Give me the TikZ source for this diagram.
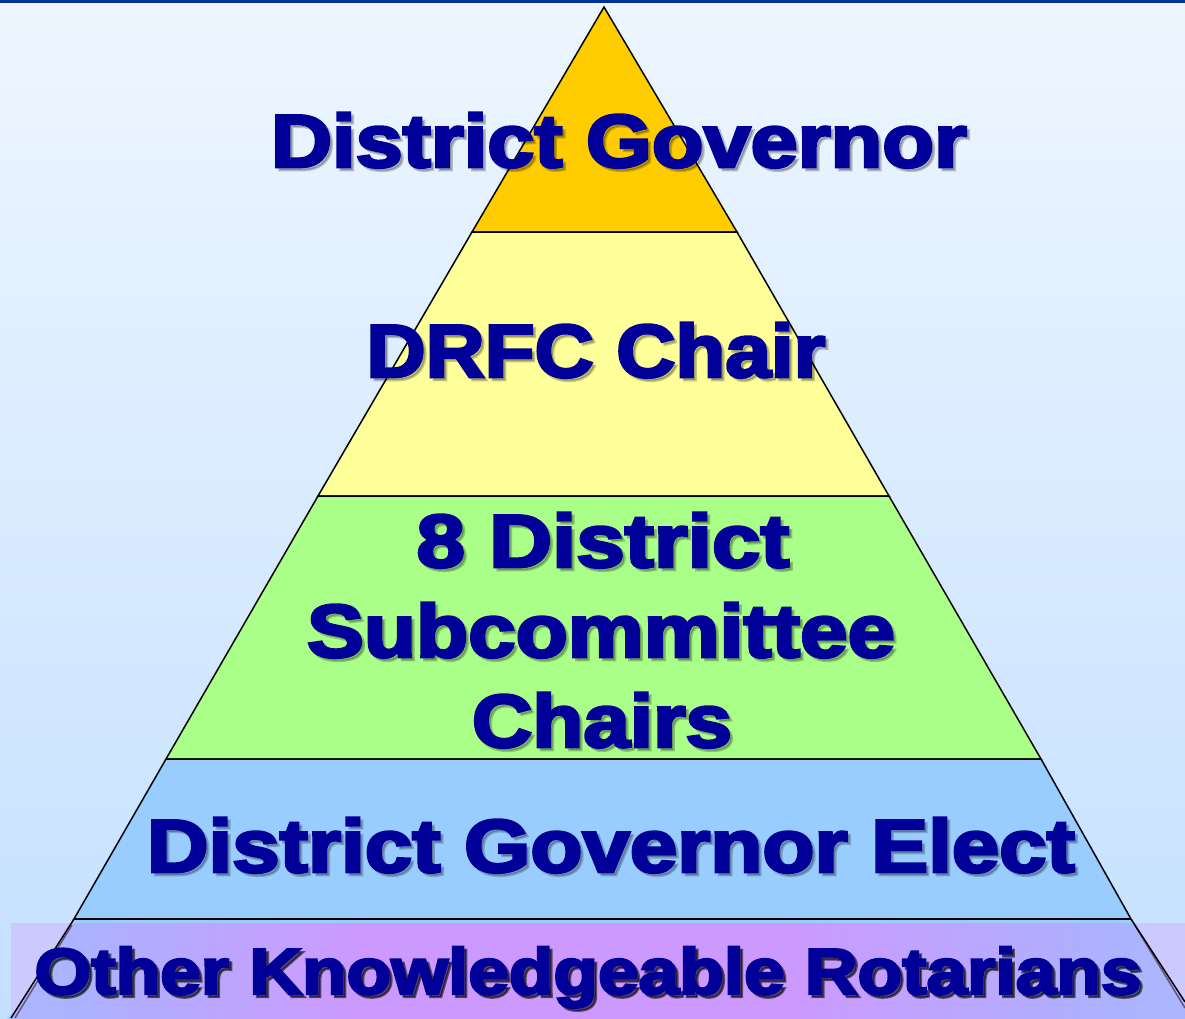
\documentclass[tikz,border=0pt]{standalone}
\usepackage{fontspec}
\usepackage{graphicx}
\newfontfamily\heavy{Liberation Sans}[UprightFont={* Bold},FakeBold=3.6]
\definecolor{navy}{HTML}{000099}
\definecolor{orangeL}{HTML}{FFCC00}
\definecolor{yellowL}{HTML}{FFFF99}
\definecolor{greenL}{HTML}{AAFF88}
\definecolor{blueL}{HTML}{99CCFF}
\definecolor{topbar}{HTML}{003399}
\definecolor{bgtop}{HTML}{EEF6FF}
\definecolor{bgbot}{HTML}{C4E0FF}
\definecolor{bandedge}{HTML}{AAB4FF}
\definecolor{bandmid}{HTML}{CC99FF}
\definecolor{bandout}{HTML}{CACAFF}
\definecolor{edgeshadow}{HTML}{665577}
\pgfdeclarehorizontalshading{bandsh}{100bp}{color(0bp)=(bandedge); color(27bp)=(bandedge); color(40bp)=(bandmid); color(58bp)=(bandmid); color(73bp)=(bandedge); color(100bp)=(bandedge)}
% text fitted to a given width
\newcommand\fitto[2]{\sbox0{#2}\pgfmathsetmacro\myfac{#1/\wd0}\scalebox{\myfac}[1]{\usebox0}}
\tikzset{
  layer/.style={draw=black, line width=1.5pt, line join=miter},
  lbl/.style={anchor=base, text=navy, inner sep=0pt, font=\heavy\fontsize{75}{90}\selectfont},
  shd/.style={lbl, text=black, opacity=0.22},
  lblsmall/.style={lbl, font=\heavy\fontsize{65}{80}\selectfont},
  shdsmall/.style={lblsmall, text=black, opacity=0.55},
}
\begin{document}
\begin{tikzpicture}[x=1pt,y=-1pt]
\useasboundingbox (0,0) rectangle (1185,1018);
\begin{scope}
\clip (0,0) rectangle (1185,1018);
% background
\shade[top color=bgtop, bottom color=bgbot] (0,0) rectangle (1185,1018);
\fill[topbar] (0,0) rectangle (1185,3);
% lower part of pyramid under the band
\fill[blueL] (74,919) -- (1131,919) -- (1200,1030) -- (0,1030) -- cycle;
% band
\shade[shading=bandsh] (11,923) rectangle (1185,1018);
\fill[bandout] (11,923) -- (71.5,923) -- (11,1018) -- cycle;
\fill[bandout] (1134,923) -- (1185,923) -- (1185,1004) -- cycle;
% layers
\draw[layer, fill=orangeL] (604,7) -- (737,232) -- (472,232) -- cycle;
\draw[layer, fill=yellowL] (472,232) -- (737,232) -- (889,496) -- (318,496) -- cycle;
\draw[layer, fill=greenL] (318,496) -- (889,496) -- (1041,759) -- (166,759) -- cycle;
\draw[layer, fill=blueL] (166,759) -- (1041,759) -- (1131,919) -- (74,919) -- cycle;
\draw[line width=2pt] (74,919) -- (1131,919);
% pyramid edges through the band
\draw[edgeshadow, line width=1.5pt] (72,925) -- (15,1018);
\draw[edgeshadow, line width=1.5pt] (1134,924) -- (1185,1008);
\draw[black, line width=1.5pt] (74,919) -- (11,1018);
\draw[black, line width=1.5pt] (1131,919) -- (1185,1002);
% texts with drop shadows
\node[shd] (dgs) at (622,170) {\fitto{696}{District Governor}};
\node[lbl] (dg) at (619,167) {\fitto{696}{District Governor}};
\node[shd] (drfcs) at (599,380) {\fitto{459}{DRFC Chair}};
\node[lbl] (drfc) at (596,377) {\fitto{459}{DRFC Chair}};
\node[shd] (sc1s) at (606,570) {\fitto{373}{8 District}};
\node[lbl] (sc1) at (603,567) {\fitto{373}{8 District}};
\node[shd] (sc2s) at (604,660) {\fitto{588}{Subcommittee}};
\node[lbl] (sc2) at (601,657) {\fitto{588}{Subcommittee}};
\node[shd] (sc3s) at (605,750) {\fitto{260}{Chairs}};
\node[lbl] (sc3) at (602,747) {\fitto{260}{Chairs}};
\node[shd] (dges) at (614,875) {\fitto{928}{District Governor Elect}};
\node[lbl] (dge) at (611,872) {\fitto{928}{District Governor Elect}};
\node[shdsmall] (okrs) at (591,997) {\fitto{1107}{Other Knowledgeable Rotarians}};
\node[lblsmall] (okr) at (588,994) {\fitto{1107}{Other Knowledgeable Rotarians}};
\end{scope}
\end{tikzpicture}
\end{document}
